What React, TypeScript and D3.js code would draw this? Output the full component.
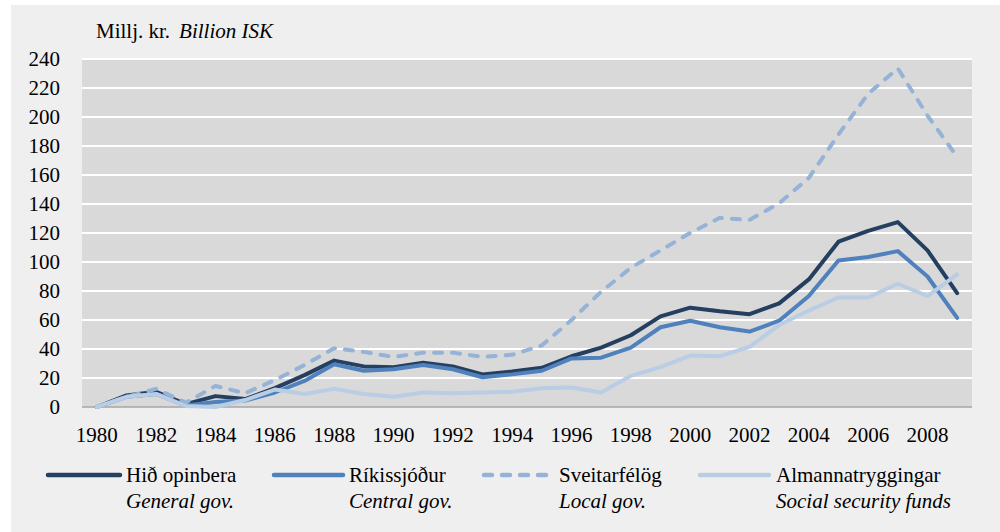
import React from "react";
import * as d3 from "d3";

const years = d3.range(1980, 2010);
const yTicks = [0, 20, 40, 60, 80, 100, 120, 140, 160, 180, 200, 220, 240];
const xTickYears = years.filter((y) => (y - 1980) % 2 === 0);

const hidOpinbera = [0, 8, 10.5, 2, 7.5, 5.5, 13, 22, 32, 28, 27.5, 30.5, 28, 22.5, 24.5, 27, 35, 41, 49.5, 62.5, 68.5, 66, 64, 71.5, 88, 114, 121.5, 127.5, 108, 78.5];
const rikissjodur = [0, 7, 9, 1, 3.5, 4.5, 10, 18, 29.5, 25, 26, 29, 26, 20.5, 22.5, 25, 33.5, 34, 41, 55, 59.5, 55, 52, 59.5, 76.5, 101, 103.5, 107.5, 90, 61.5];
const sveitarfelog = [0, 7, 12.5, 3, 14.5, 9.5, 18.5, 29, 40.5, 38, 34.5, 37.5, 37.5, 34.5, 36, 42.5, 60, 79.5, 96, 108, 120, 130.5, 129, 140.5, 158, 188, 216, 233.5, 201, 172.5];
const almannatryggingar = [0, 7, 9, 0.7, 0, 4.8, 12, 9, 12.5, 9, 7, 10, 9.5, 10, 10.5, 13, 13.5, 10, 21.5, 27.5, 35.5, 35, 41.5, 56.5, 66.5, 75.5, 75.5, 85, 76.5, 91.5];

const seriesNames = ["Hið opinbera", "Ríkissjóður", "Sveitarfélög", "Almannatryggingar"];
const seriesNamesEn = ["General gov.", "Central gov.", "Local gov.", "Social security funds"];
const seriesValues = [hidOpinbera, rikissjodur, sveitarfelog, almannatryggingar];
const seriesColors = ["#243f60", "#4f81bd", "#95b3d7", "#b9cde5"];
const seriesDash = [null, null, "8,10", null];

const FONT = "Liberation Serif";
const FS = 21;

function T({ x, y, anchor = "start", italic = false, children }: any) {
  return (
    <text
      x={x}
      y={y}
      textAnchor={anchor}
      fontFamily={FONT}
      fontSize={FS}
      fontStyle={italic ? "italic" : "normal"}
      fill="#000"
    >
      {children}
    </text>
  );
}

export default function App() {
  const W = 1000;
  const H = 532;
  const plotL = 82;
  const plotR = 972;
  const plotT = 59;
  const plotB = 407;

  const xBand = d3.scaleBand<number>().domain(years).range([plotL, plotR]);
  const xc = (yr: number) => (xBand(yr) as number) + xBand.bandwidth() / 2;
  const y = d3.scaleLinear().domain([0, 240]).range([plotB, plotT]);

  const line = d3
    .line<number>()
    .x((_, i) => xc(years[i]))
    .y((v) => y(v));

  const legendX = [
    { l0: 48, l1: 120, tx: 126 },
    { l0: 274, l1: 343, tx: 349 },
    { l0: 484, l1: 551, tx: 559 },
    { l0: 700, l1: 769, tx: 776 },
  ];

  return (
    <svg
      width={W}
      height={H}
      style={{ position: "absolute", left: 0, top: 0, background: "#ffffff" }}
    >
      <rect x={11} y={5} width={W - 11} height={H - 5} fill="#efefef" />
      <rect x={plotL} y={plotT} width={plotR - plotL} height={plotB - plotT} fill="#d9d9d9" />
      {yTicks.filter((t) => t > 0).map((t) => (
        <line key={t} x1={plotL} x2={plotR} y1={y(t)} y2={y(t)} stroke="#ffffff" strokeWidth={2} />
      ))}
      <line x1={plotL} x2={plotR} y1={plotB} y2={plotB} stroke="#a6a6a6" strokeWidth={1.3} />

      {yTicks.map((t) => (
        <T key={t} x={60} y={y(t) + 7} anchor="end">{t}</T>
      ))}
      {xTickYears.map((yr) => (
        <T key={yr} x={xc(yr)} y={442} anchor="middle">{yr}</T>
      ))}

      <text x={96} y={38} fontFamily={FONT} fontSize={FS} fill="#000">
        <tspan>Millj. kr.</tspan>
        <tspan fontStyle="italic" dx={9}>Billion ISK</tspan>
      </text>

      {seriesValues.map((vals, i) => (
        <path
          key={i}
          d={line(vals) as string}
          fill="none"
          stroke={seriesColors[i]}
          strokeWidth={4}
          strokeLinejoin="round"
          strokeLinecap="round"
          strokeDasharray={seriesDash[i] || undefined}
        />
      ))}

      {seriesNames.map((name, i) => (
        <g key={name}>
          <line
            x1={legendX[i].l0}
            x2={legendX[i].l1}
            y1={475}
            y2={475}
            stroke={seriesColors[i]}
            strokeWidth={4.5}
            strokeLinecap="round"
            strokeDasharray={seriesDash[i] || undefined}
          />
          <T x={legendX[i].tx} y={482}>{name}</T>
          <T x={legendX[i].tx} y={508} italic>{seriesNamesEn[i]}</T>
        </g>
      ))}
    </svg>
  );
}
